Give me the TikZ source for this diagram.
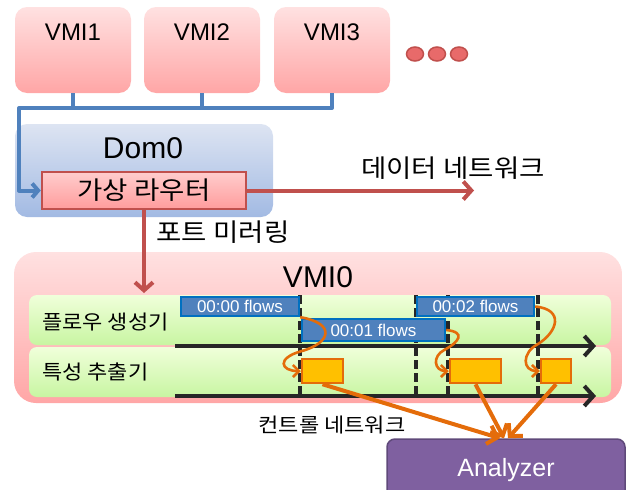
\documentclass[tikz,border=0pt]{standalone}
\usepackage{fontspec}
\setmainfont{Liberation Sans}
\newfontfamily\kor[FakeStretch=1.1]{Noto Sans CJK KR}
\usetikzlibrary{arrows.meta}

\definecolor{vmitop}{HTML}{FFE1E1}
\definecolor{vmibot}{HTML}{FFA6A6}
\definecolor{dotfill}{HTML}{E86A6A}
\definecolor{redline}{HTML}{C0504D}
\definecolor{domtop}{HTML}{DDE4F2}
\definecolor{dombot}{HTML}{A2BAE3}
\definecolor{rtop}{HTML}{FFCDCD}
\definecolor{rbot}{HTML}{FF9C9C}
\definecolor{bandtop}{HTML}{F0FFDA}
\definecolor{bandbot}{HTML}{C8F5A2}
\definecolor{busblue}{HTML}{4F81BD}
\definecolor{flowedge}{HTML}{0070C0}
\definecolor{ofill}{HTML}{FFC000}
\definecolor{oedge}{HTML}{E46C0A}
\definecolor{anfill}{HTML}{7F60A0}
\definecolor{anedge}{HTML}{5F497A}
\definecolor{ink}{HTML}{262626}

\tikzset{
  vmibox/.style={rounded corners=12pt, top color=vmitop, bottom color=vmibot,
    minimum width=116pt, minimum height=86pt, inner sep=0pt},
  vmitext/.style={inner sep=0pt, font=\fontsize{24}{28}\selectfont},
  kbig/.style={inner sep=0pt, font=\kor\fontsize{25}{30}\selectfont},
  klab/.style={inner sep=0pt, font=\kor\fontsize{20}{24}\selectfont},
  busline/.style={draw=busblue, line width=4pt, line join=round},
  redarrow/.style={draw=redline, line width=4pt, -{Straight Barb[length=8pt,width=18pt]}},
  band/.style={rounded corners=8pt, top color=bandtop, bottom color=bandbot,
    minimum width=582pt, minimum height=50pt, inner sep=0pt},
  flow/.style={draw=flowedge, fill=busblue, line width=2.4pt, text=white, inner sep=0pt,
    font=\fontsize{17}{20}\selectfont},
  obox/.style={draw=oedge, fill=ofill, line width=2.5pt, inner sep=0pt, minimum height=24pt},
  curvy/.style={draw=oedge, line width=2.6pt, -{Straight Barb[length=6pt,width=12pt]}},
  oarrow/.style={draw=oedge, line width=4pt, -{Straight Barb[length=9pt,width=19pt]}},
  axis/.style={draw=ink, line width=4pt, -{Straight Barb[length=9pt,width=20pt]}},
  tick/.style={draw=ink, line width=3.2pt, dash pattern=on 9pt off 4pt}
}

\begin{document}
\begin{tikzpicture}[x=1pt,y=1pt]
  \useasboundingbox (0,0) rectangle (632,-490);

  % guest VMIs
  \node[vmibox] (vmia) at (73,-50) {};
  \node[vmibox] (vmib) at (202,-50) {};
  \node[vmibox] (vmic) at (332,-50) {};
  \node[vmitext] (vmiat) at (73,-32) {VMI1};
  \node[vmitext] (vmibt) at (202,-32) {VMI2};
  \node[vmitext] (vmict) at (332,-32) {VMI3};
  \foreach \x in {415,437,459}
    \draw[draw=redline, fill=dotfill, line width=1.5pt] (\x,-54) ellipse (8.5 and 7);

  % Dom0 and the virtual router
  \node[rounded corners=12pt, top color=domtop, bottom color=dombot, minimum width=258pt,
    minimum height=93pt, inner sep=0pt] (domz) at (144,-170.5) {};
  \node[inner sep=0pt, font=\fontsize{30}{34}\selectfont] (domzt) at (143,-148) {Dom0};
  \node[draw=redline, line width=2.5pt, top color=rtop, bottom color=rbot, minimum width=204pt,
    minimum height=37pt, inner sep=0pt, font=\kor\fontsize{25}{30}\selectfont] (router) at (144,-190.5) {가상 라우터};

  \coordinate (busl) at (19,-108);
  \coordinate (busr) at (332,-108);
  \draw[busline] (vmia.south) -- (vmia.south |- busl);
  \draw[busline] (vmib.south) -- (vmib.south |- busl);
  \draw[busline, -{Straight Barb[length=6pt,width=14pt]}]
    (vmic.south) -- (busr) -- (busl) -- (busl |- router.west) -- (router.west);

  % monitoring VMI
  \node[rounded corners=22pt, top color=vmitop, bottom color=vmibot, minimum width=608pt,
    minimum height=151pt, inner sep=0pt] (vmiz) at (318,-327.5) {};
  \node[inner sep=0pt, font=\fontsize{30}{34}\selectfont] (vmizt) at (318,-277) {VMI0};

  \coordinate (dataend) at (474,-190.5);
  \coordinate (portend) at (144,-293);
  \draw[redarrow] (router.east) -- (dataend);
  \draw[redarrow] (router.south) -- (portend);
  \node[kbig] (datat) at (453,-168) {데이터 네트워크};
  \node[kbig] (portt) at (223,-232) {포트 미러링};

  \node[band] (gen) at (320,-320) {};
  \node[band] (ext) at (320,-372) {};
  \node[klab, anchor=west] (gent) at (42,-322) {플로우 생성기};
  \node[klab, anchor=west] (extt) at (42,-372) {특성 추출기};

  \foreach \x in {300,416,448,538}
    \draw[tick] (\x,-295) -- (\x,-397);
  \coordinate (gena) at (175,-346);
  \coordinate (genb) at (596,-346);
  \coordinate (exta) at (175,-396);
  \coordinate (extb) at (596,-396);
  \draw[axis] (gena) -- (genb);
  \draw[axis] (exta) -- (extb);

  \node[flow, minimum width=118pt, minimum height=19pt] (fa) at (240,-306.5) {00:00 flows};
  \node[flow, minimum width=143pt, minimum height=22pt] (fb) at (373.5,-330) {00:01 flows};
  \node[flow, minimum width=117pt, minimum height=19pt] (fc) at (475.5,-306.5) {00:02 flows};

  \node[obox, minimum width=41pt] (oa) at (322.5,-371) {};
  \node[obox, minimum width=51pt] (ob) at (475.5,-371) {};
  \node[obox, minimum width=30pt] (oc) at (556,-371) {};

  \draw[curvy] (fa.south east) .. controls +(36,-6) and +(30,8) .. ++(1,-34)
    .. controls +(-25,-7) and +(-20,0) .. (oa.west);
  \draw[curvy] (fb.east) .. controls +(20,-2) and +(15,8) .. ++(-2,-20)
    .. controls +(-12,-6) and +(-15,0) .. (ob.west);
  \draw[curvy] (fc.east) .. controls +(30,-3) and +(20,12) .. ++(2,-38)
    .. controls +(-15,-8) and +(-18,0) .. (oc.west);

  % analyzer over the control network
  \node[draw=anedge, fill=anfill, line width=1.5pt, rounded corners=8pt, minimum width=238pt,
    minimum height=62pt, inner sep=0pt, text=white, font=\fontsize{25}{30}\selectfont] (an) at (506,-470) {Analyzer};
  \draw[oarrow] (oa.south) -- ([xshift=-6pt]an.north);
  \draw[oarrow] (ob.south) -- ([xshift=-2pt]an.north);
  \draw[oarrow] (oc.south) -- ([xshift=2pt]an.north);
  \node[klab] (ctl) at (332,-425) {컨트롤 네트워크};
\end{tikzpicture}
\end{document}
